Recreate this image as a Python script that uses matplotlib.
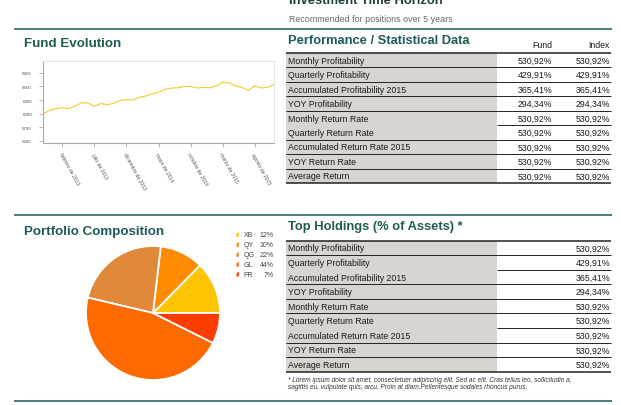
import matplotlib
matplotlib.use("Agg")
import matplotlib.pyplot as plt
from matplotlib.patches import Rectangle, Polygon
import pandas as pd

plt.rcParams['font.family'] = ['Liberation Sans', 'DejaVu Sans']

W, H = 621, 406
TEAL = '#1d5b55'
TITLE = '#1f5a54'

# fund evolution, monthly values (Nov 2012 .. Nov 2015)
fund_months = pd.date_range('2012-11-01', periods=37, freq='MS')
fund_values = [6000, 6073, 6110, 6130, 6110, 6170, 6240, 6240, 6160, 6225,
               6200, 6225, 6290, 6310, 6300, 6360, 6390, 6430, 6475, 6535,
               6565, 6570, 6600, 6600, 6565, 6580, 6570, 6610, 6695, 6680,
               6610, 6580, 6510, 6610, 6565, 6585, 6645]
x_tick_months = ['2013-02', '2013-07', '2013-12', '2014-05', '2014-10', '2015-03', '2015-08']
x_tick_labels = ['febrero de 2013', 'julio de 2013', 'diciembre de 2013', 'mayo de 2014',
                 'octubre de 2014', 'marzo de 2015', 'agosto de 2015']
y_ticks = [5400, 5700, 6000, 6300, 6600, 6900]

# performance table
perf_rows = ['Monthly Profitability', 'Quarterly Profitability', 'Accumulated Profitability 2015',
             'YOY Profitability', 'Monthly Return Rate', 'Quarterly Return Rate',
             'Accumulated Return Rate 2015', 'YOY Return Rate', 'Average Return']
perf_fund = ['530,92%', '429,91%', '365,41%', '294,34%', '530,92%', '530,92%', '530,92%', '530,92%', '530,92%']
perf_index = ['530,92%', '429,91%', '365,41%', '294,34%', '530,92%', '530,92%', '530,92%', '530,92%', '530,92%']

# portfolio composition
pie_labels = ['XB', 'QY', 'QG', 'GL', 'FR']
pie_values = [12, 10, 22, 44, 7]
pie_colors = ['#ffc400', '#ff8c00', '#e0893b', '#ff6a00', '#ff3d00']

# top holdings
hold_rows = perf_rows
hold_values = ['530,92%', '429,91%', '365,41%', '294,34%', '530,92%', '530,92%', '530,92%', '530,92%', '530,92%']

footnote = ['* Lorem ipsum dolor sit amet, consectetuer adipiscing elit. Sed ac elit. Cras tellus leo, sollicitudin a,',
            'sagittis eu, vulputate quis, arcu. Proin at diam.Pellentesque sodales rhoncus purus.']

TXT = 6.3


def box(left, top, right, bottom):
    return [left / W, 1 - bottom / H, (right - left) / W, (bottom - top) / H]


fig = plt.figure(figsize=(W / 100, H / 100), dpi=100)

# overlay in pixel coordinates for headings, tables and rules
ax0 = fig.add_axes([0, 0, 1, 1], zorder=0)
ax0.set_xlim(0, W)
ax0.set_ylim(H, 0)
ax0.axis('off')

for y in [30, 216, 402]:
    ax0.plot([14, 612], [y, y], color=TEAL, lw=1.1, solid_capstyle='butt')

ax0.text(289, 4, 'Investment Time Horizon', fontsize=9.4, fontweight='bold', color='#1c3f3c', va='baseline')
ax0.text(289, 19, 'Recommended for positions over 5 years', fontsize=6.4, color='#666666', va='center')

ax0.text(24, 44, 'Fund Evolution', fontsize=9.6, fontweight='bold', color=TITLE, va='center')
ax0.text(288, 41, 'Performance / Statistical Data', fontsize=9.3, fontweight='bold', color=TITLE, va='center')
ax0.text(24, 232, 'Portfolio Composition', fontsize=9.6, fontweight='bold', color=TITLE, va='center')
ax0.text(288, 227, 'Top Holdings (% of Assets) *', fontsize=9.3, fontweight='bold', color=TITLE, va='center')


def draw_table(top, row_h, labels, columns, col_right, partial):
    n = len(labels)
    ax0.add_patch(Rectangle((286, top), 211, row_h * n, color='#d8d5d1', lw=0, zorder=1))
    for i, lab in enumerate(labels):
        yc = top + row_h * (i + 0.5)
        ax0.text(288, yc, lab, fontsize=TXT, color='#1a1a1a', va='center', zorder=3)
        for col, xr in zip(columns, col_right):
            ax0.text(xr, yc, col[i], fontsize=TXT, color='#1a1a1a', va='center', ha='right', zorder=3)
    for i in range(n + 1):
        y = top + row_h * i
        lw = 1.1 if i in (0, n) else 0.7
        x0 = 497 if i in partial else 286
        ax0.plot([x0, 611], [y, y], color='#222222', lw=lw, zorder=2, solid_capstyle='butt')


ax0.text(552, 46, 'Fund', fontsize=TXT, color='#1a1a1a', ha='right', va='center')
ax0.text(610, 46, 'Index', fontsize=TXT, color='#1a1a1a', ha='right', va='center')
draw_table(54, 14.45, perf_rows, [perf_fund, perf_index], [552, 610], partial=[5])
draw_table(241.7, 14.55, hold_rows, [hold_values], [610], partial=[2, 6])

for i, line in enumerate(footnote):
    ax0.text(288, 380.3 + 7.6 * i, line, fontsize=4.7, style='italic', color='#333333', va='center')

# legend of pie
for i, (lab, val, c) in enumerate(zip(pie_labels, pie_values, pie_colors)):
    y = 235.7 + 9.9 * i
    ax0.add_patch(Polygon([(236.5, y - 1), (238.8, y - 2.6), (238.8, y + 2.3), (236.5, y + 2.3)],
                          closed=True, color=c, lw=0))
    ax0.text(243.5, y, lab, fontsize=5, color='#444444', va='center')
    ax0.text(273.5, y, f'{val}%', fontsize=5, color='#444444', va='center', ha='right')

# line chart
ax = fig.add_axes(box(43, 62, 274, 144), zorder=2)
ax.plot(range(len(fund_values)), fund_values, color='#f7c928', lw=0.8)
ax.set_xlim(0, len(fund_values) - 1)
ax.set_ylim(5356, 7160)
ax.set_yticks(y_ticks)
ax.set_yticklabels([str(v) for v in y_ticks])
month_keys = [d.strftime('%Y-%m') for d in fund_months]
ax.set_xticks([month_keys.index(m) for m in x_tick_months])
ax.set_xticklabels(x_tick_labels, rotation=-61, ha='left', va='top', rotation_mode='anchor')
ax.tick_params(labelsize=3.6, labelcolor='#555555', color='#aaaaaa', length=3, width=0.6)
ax.tick_params(axis='y', pad=5, labelsize=3.2)
ax.tick_params(axis='x', pad=3)
for name, sp in ax.spines.items():
    sp.set_color('#e4e4e4' if name in ('top', 'right') else '#aaaaaa')
    sp.set_linewidth(0.8)

# pie
r = 67
axp = fig.add_axes(box(153 - 70, 314 - 70, 153 + 70, 314 + 70), zorder=2)
axp.pie(pie_values, colors=pie_colors, startangle=0, counterclock=True,
        wedgeprops=dict(edgecolor='white', linewidth=1.3))
axp.set_xlim(-70 / r, 70 / r)
axp.set_ylim(-70 / r, 70 / r)
axp.set_aspect('equal')

fig.savefig('out.png', dpi=100)
